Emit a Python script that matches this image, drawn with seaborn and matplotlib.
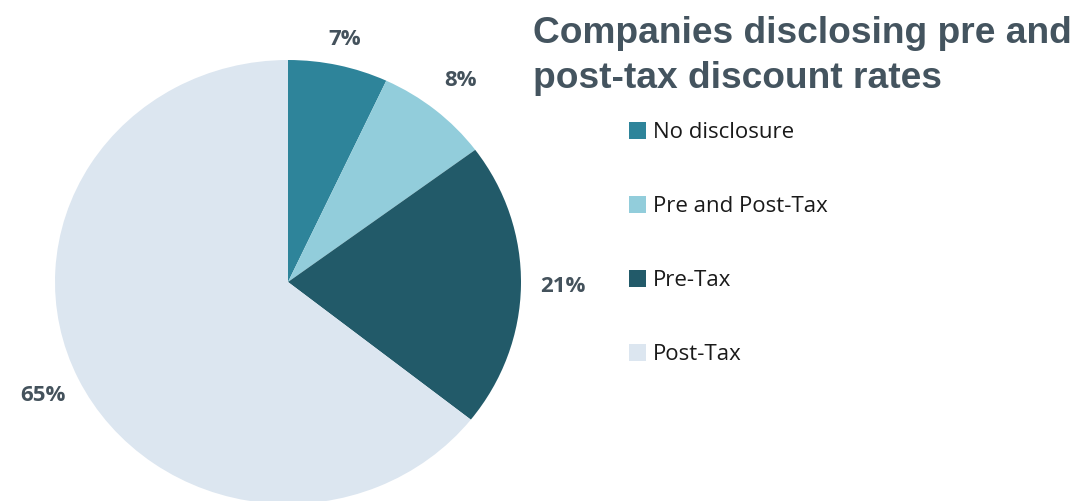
import matplotlib
matplotlib.use("Agg")
import matplotlib.pyplot as plt
from matplotlib.patches import Rectangle
import numpy as np
import seaborn as sns

# Share of companies by type of discount-rate disclosure
categories = ["No disclosure", "Pre and Post-Tax", "Pre-Tax", "Post-Tax"]
shares = [7, 8, 21, 65]
colors = ["#2E849A", "#92CDDB", "#225A69", "#DCE6F0"]
title_lines = ["Companies disclosing pre and", "post-tax discount rates"]

# Radial distance of each percentage label, in pie radii
label_dist = [1.12, 1.17, 1.18, 1.17]

sns.set_theme(style="white")
plt.rcParams["font.family"] = ["Open Sans", "DejaVu Sans"]

fig = plt.figure(figsize=(10.75, 5.01), dpi=100)
fig.patch.set_facecolor("white")

# Pie axes: slightly wider than tall, reaching just past the bottom edge
ax = fig.add_axes([55 / 1075, (501 - 504) / 501, 466 / 1075, 444 / 501])
wedges, _ = ax.pie(
    shares,
    colors=colors,
    startangle=90,
    counterclock=False,
    radius=1,
    wedgeprops=dict(linewidth=0),
)

# Percentage labels placed outside the middle of each wedge
for w, v, d in zip(wedges, shares, label_dist):
    mid = np.deg2rad((w.theta1 + w.theta2) / 2)
    ax.text(d * np.cos(mid), d * np.sin(mid), f"{v}%",
            ha="center", va="center", fontsize=16, fontweight="bold",
            color="#44525C")

ax.set_xlim(-1, 1)
ax.set_ylim(-1, 1)
ax.set_aspect("auto")
ax.axis("off")

# Title, two left-aligned lines
title_kw = dict(fontsize=26.7, fontweight="bold", color="#44545F",
                family=["Liberation Sans", "DejaVu Sans"], ha="left", va="baseline")
fig.text(533 / 1075, 1 - 43 / 501, title_lines[0], **title_kw)
fig.text(533 / 1075, 1 - 88 / 501, title_lines[1], **title_kw)

# Legend with square swatches
handles = [Rectangle((0, 0), 1, 1, facecolor=c, edgecolor="none") for c in colors]
fig.legend(
    handles, categories,
    loc="upper left", bbox_to_anchor=(629 / 1075, 1 - 122 / 501),
    frameon=False, fontsize=16, labelcolor="#1A1A1A",
    handlelength=0.77, handleheight=0.77, handletextpad=0.32,
    labelspacing=2.385, borderpad=0, borderaxespad=0,
)

fig.savefig("out.png", dpi=100, facecolor="white")
